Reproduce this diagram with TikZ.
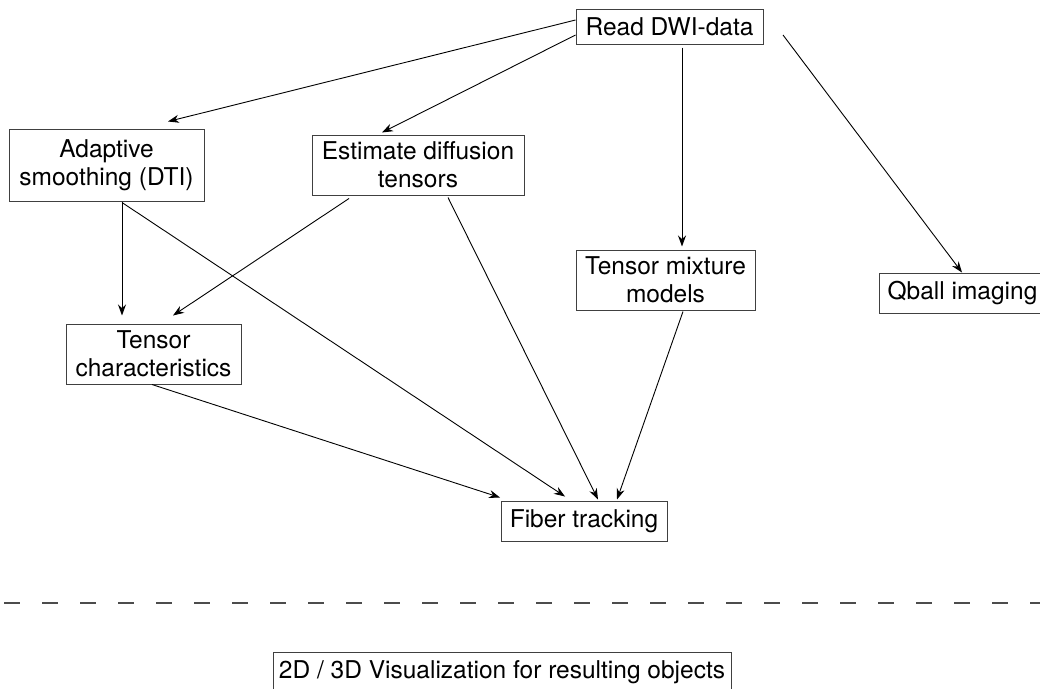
\documentclass[tikz,border=0pt]{standalone}
\usepackage{fontspec}
\setmainfont{TeX Gyre Heros}
\usetikzlibrary{arrows.meta,calc}
\begin{document}
\begin{tikzpicture}[x=1pt,y=-1pt,
  box/.style={draw=black!75, line width=1pt, inner sep=0pt, align=center,
    font=\fontsize{24.5}{28}\selectfont},
  arr/.style={line width=0.9pt, -{Stealth[length=11pt,width=8pt]}},
  sepline/.style={draw=black!70, line width=2pt, dash pattern=on 16pt off 22pt}]
\useasboundingbox (0,0) rectangle (1040,688);
\node[box, minimum width=187pt, minimum height=35pt] (read) at (669.5,26.5) {Read DWI-data};
\node[box, minimum width=195pt, minimum height=72pt] (adapt) at (106.5,165) {Adaptive\\smoothing (DTI)};
\node[box, minimum width=212pt, minimum height=60pt] (est) at (418,165) {Estimate diffusion\\tensors};
\node[box, minimum width=179pt, minimum height=60pt] (mix) at (665.5,280) {Tensor mixture\\models};
\node[box, minimum width=167pt, minimum height=40pt] (qball) at (962.5,293) {Qball imaging};
\node[box, minimum width=175pt, minimum height=60pt] (tc) at (153.5,354) {Tensor\\characteristics};
\node[box, minimum width=166pt, minimum height=40pt] (fiber) at (584,521) {Fiber tracking};
\node[box, minimum width=458pt, minimum height=40pt] (viz) at (502,672) {2D / 3D Visualization for resulting objects};
\coordinate (qs) at (783,35);
\coordinate (dl) at (4,603);
\coordinate (dr) at (1040,603);
\draw[arr] ($(read.west)+(0,-6.5)$) -- ($(adapt.north)+(61.5,-7)$);
\draw[arr] ($(read.west)+(0,8.5)$) -- ($(est.north)+(-36,-2)$);
\draw[arr] ($(read.south)+(12.5,3)$) -- ($(mix.north)+(16.5,-3)$);
\draw[arr] (qs) -- ($(qball.north)+(-0.5,0)$);
\draw[arr] ($(adapt.south)+(15.5,0)$) -- ($(tc.north)+(-31.5,-8)$);
\draw[arr] ($(adapt.south)+(15.5,1)$) -- ($(fiber.north)+(-19,-4)$);
\draw[arr] ($(est.south)+(-69,3)$) -- ($(tc.north)+(19.5,-8)$);
\draw[arr] ($(est.south)+(30,2)$) -- ($(fiber.north)+(14,-1)$);
\draw[arr] ($(tc.south)+(-1.5,0)$) -- ($(fiber.north)+(-84,-3)$);
\draw[arr] ($(mix.south)+(17.5,1)$) -- ($(fiber.north)+(33,-1)$);
\draw[sepline] (dl) -- (dr);
\end{tikzpicture}
\end{document}
